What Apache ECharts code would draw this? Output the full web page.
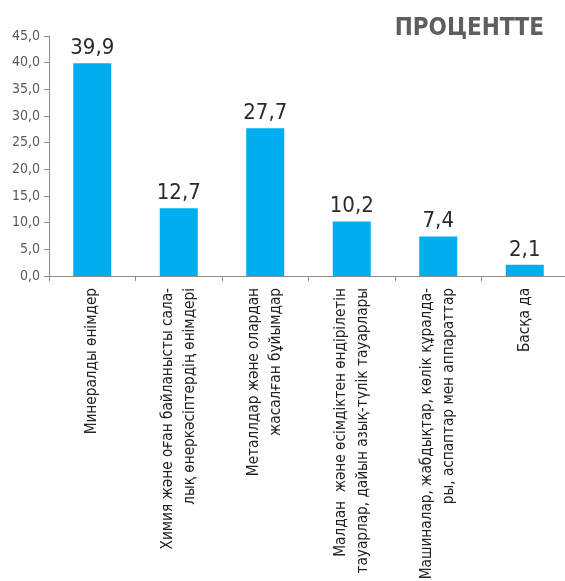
<!DOCTYPE html>
<html>
<head>
<meta charset="utf-8">
<script src="https://cdn.jsdelivr.net/npm/echarts@6/dist/echarts.min.js"></script>
<style>
  html, body { margin: 0; padding: 0; background: #fff; }
  #chart { width: 565px; height: 581px; }
</style>
</head>
<body>
<div id="chart"></div>
<script>
// Export structure by product group, percent
const categories = [
  'Минералды өнімдер',
  'Химия және оған байланысты сала-\nлық өнеркәсіптердің өнімдері',
  'Металлдар және олардан\nжасалған бұйымдар',
  'Малдан  және өсімдіктен өндірілетін\nтауарлар, дайын азық-түлік тауарлары',
  'Машиналар, жабдықтар, көлік құралда-\nры, аспаптар мен аппараттар',
  'Басқа да'
];
const shares = [39.9, 12.7, 27.7, 10.2, 7.4, 2.1];
const titleText = 'ПРОЦЕНТТЕ';

const fmt = v => Number(v).toFixed(1).replace('.', ',');
const NARROW = '"DejaVu Sans Condensed", sans-serif';

const chart = echarts.init(document.getElementById('chart'), null, { renderer: 'canvas' });
chart.setOption({
  animation: false,
  backgroundColor: '#ffffff',
  title: {
    text: titleText,
    right: 16,
    top: 12,
    textStyle: {
      fontFamily: '"DejaVu Sans Condensed", sans-serif',
      fontWeight: 'bold',
      fontSize: 24,
      color: '#5e5e5e'
    }
  },
  grid: { left: 49, right: -3, top: 36, bottom: 305, outerBoundsMode: 'none', containLabel: false },
  xAxis: {
    type: 'category',
    data: categories,
    axisLine: { lineStyle: { color: '#8c8c8c', width: 1 } },
    axisTick: { show: true, length: 5, lineStyle: { color: '#8c8c8c' } },
    axisLabel: {
      interval: 0,
      rotate: 90,
      margin: 12,
      fontFamily: NARROW,
      fontSize: 15.2,
      lineHeight: 22,
      color: '#222222'
    }
  },
  yAxis: {
    type: 'value',
    min: 0,
    max: 45,
    interval: 5,
    splitLine: { show: false },
    axisLine: { show: true, lineStyle: { color: '#8c8c8c', width: 1 } },
    axisTick: { show: true, length: 5, lineStyle: { color: '#8c8c8c' } },
    axisLabel: {
      margin: 9,
      fontFamily: NARROW,
      fontSize: 14,
      color: '#5a5a5a',
      formatter: fmt
    }
  },
  series: [{
    type: 'bar',
    data: shares,
    barWidth: 38,
    itemStyle: { color: '#00adef' },
    label: {
      show: true,
      position: 'top',
      distance: 4,
      fontFamily: NARROW,
      fontSize: 22,
      color: '#2b2b2b',
      formatter: p => fmt(p.value)
    }
  }]
});
</script>
</body>
</html>
